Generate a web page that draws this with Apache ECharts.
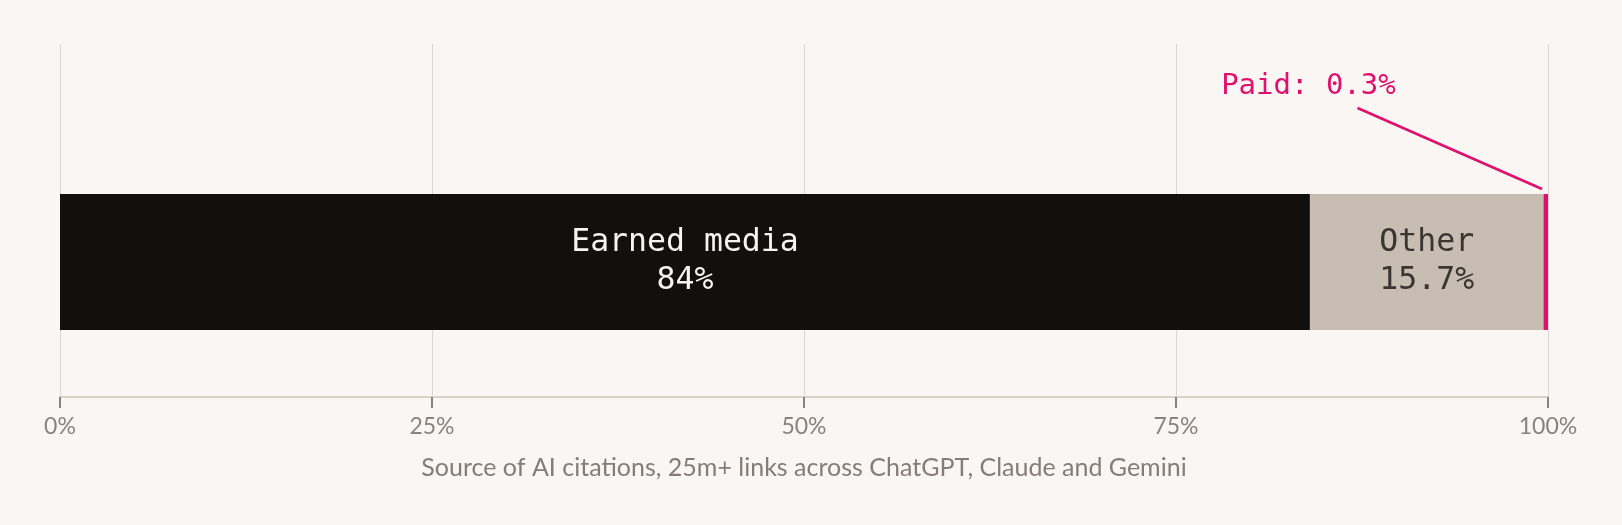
<!DOCTYPE html>
<html>
<head>
<meta charset="utf-8">
<script src="https://cdn.jsdelivr.net/npm/echarts@6/dist/echarts.min.js"></script>
<style>
html,body{margin:0;padding:0;background:#f9f6f3;}
#c{width:1622px;height:525px;}
</style>
</head>
<body>
<div id="c"></div>
<script>
const categories = ['AI citations'];
const seriesNames = ['Earned media', 'Other', 'Paid'];
const earnedValues = [84];
const otherValues = [15.7];
const paidValues = [0.3];
const tickLabels = ['0%', '25%', '50%', '75%', '100%'];
const axisTitle = 'Source of AI citations, 25m+ links across ChatGPT, Claude and Gemini';
const paidNote = 'Paid: 0.3%';

const MONO = '"DejaVu Sans Mono", monospace';
const LATO = 'Lato, sans-serif';
const chart = echarts.init(document.getElementById('c'));
const BAR_W = 136;

function lbl(color) {
  return {
    show: true, position: 'inside', color: color,
    fontFamily: MONO, fontSize: 31.5, lineHeight: 38,
    formatter: p => p.seriesName + '\n' + p.value + '%'
  };
}

chart.setOption({
  backgroundColor: '#f9f6f3',
  animation: false,
  grid: [
    {left: 60, right: 74, top: 44, bottom: 128},
    {left: 60, right: 74, top: 127, bottom: 128}
  ],
  xAxis: [
    {
      gridIndex: 0, type: 'value', min: 0, max: 100, interval: 25,
      axisLine: {show: true, lineStyle: {color: '#d9d1ca', width: 2}},
      axisTick: {show: true, length: 11, lineStyle: {color: '#8a827c', width: 2}},
      splitLine: {show: true, lineStyle: {color: '#ddd6d0', width: 1}},
      axisLabel: {
        margin: 18, color: '#8a827d', fontFamily: LATO, fontSize: 23,
        formatter: v => tickLabels[Math.round(v / 25)]
      },
      name: axisTitle, nameLocation: 'middle', nameGap: 58,
      nameTextStyle: {color: '#857c77', fontFamily: LATO, fontSize: 25}
    },
    {
      gridIndex: 1, type: 'value', min: 0, max: 100, interval: 25,
      axisLine: {show: false}, axisTick: {show: false},
      splitLine: {show: false}, axisLabel: {show: false}
    }
  ],
  yAxis: [
    {gridIndex: 0, type: 'category', data: categories, show: false},
    {gridIndex: 1, type: 'category', data: categories, show: false}
  ],
  series: [
    {
      name: seriesNames[0], type: 'bar', stack: 'total', xAxisIndex: 1, yAxisIndex: 1,
      barWidth: BAR_W, data: earnedValues,
      itemStyle: {color: '#11100e'}, label: lbl('#f7f3ee')
    },
    {
      name: seriesNames[1], type: 'bar', stack: 'total', xAxisIndex: 1, yAxisIndex: 1,
      barWidth: BAR_W, data: otherValues,
      itemStyle: {color: '#c8bdb3'}, label: lbl('#3b3532')
    },
    {
      name: seriesNames[2], type: 'bar', stack: 'total', xAxisIndex: 1, yAxisIndex: 1,
      barWidth: BAR_W, data: paidValues,
      itemStyle: {color: '#e0106e'}
    }
  ]
});

// annotation for the thin "Paid" slice, positioned through the axis scale
const total = earnedValues[0] + otherValues[0] + paidValues[0];
const endPt = chart.convertToPixel({gridIndex: 1}, [total - 0.4, categories[0]]);
const startPt = chart.convertToPixel({gridIndex: 1}, [87.2, categories[0]]);
const textPt = chart.convertToPixel({gridIndex: 1}, [83.9, categories[0]]);
const barTop = endPt[1] - BAR_W / 2;
chart.setOption({
  graphic: [
    {
      type: 'line', silent: true,
      shape: {x1: startPt[0], y1: barTop - 86, x2: endPt[0], y2: barTop - 5},
      style: {stroke: '#e0106e', lineWidth: 2.5}
    },
    {
      type: 'text', silent: true,
      x: textPt[0], y: barTop - 108,
      style: {
        text: paidNote, fill: '#e0106e', font: '29px ' + MONO,
        align: 'center', verticalAlign: 'middle'
      }
    }
  ]
});
</script>
</body>
</html>
